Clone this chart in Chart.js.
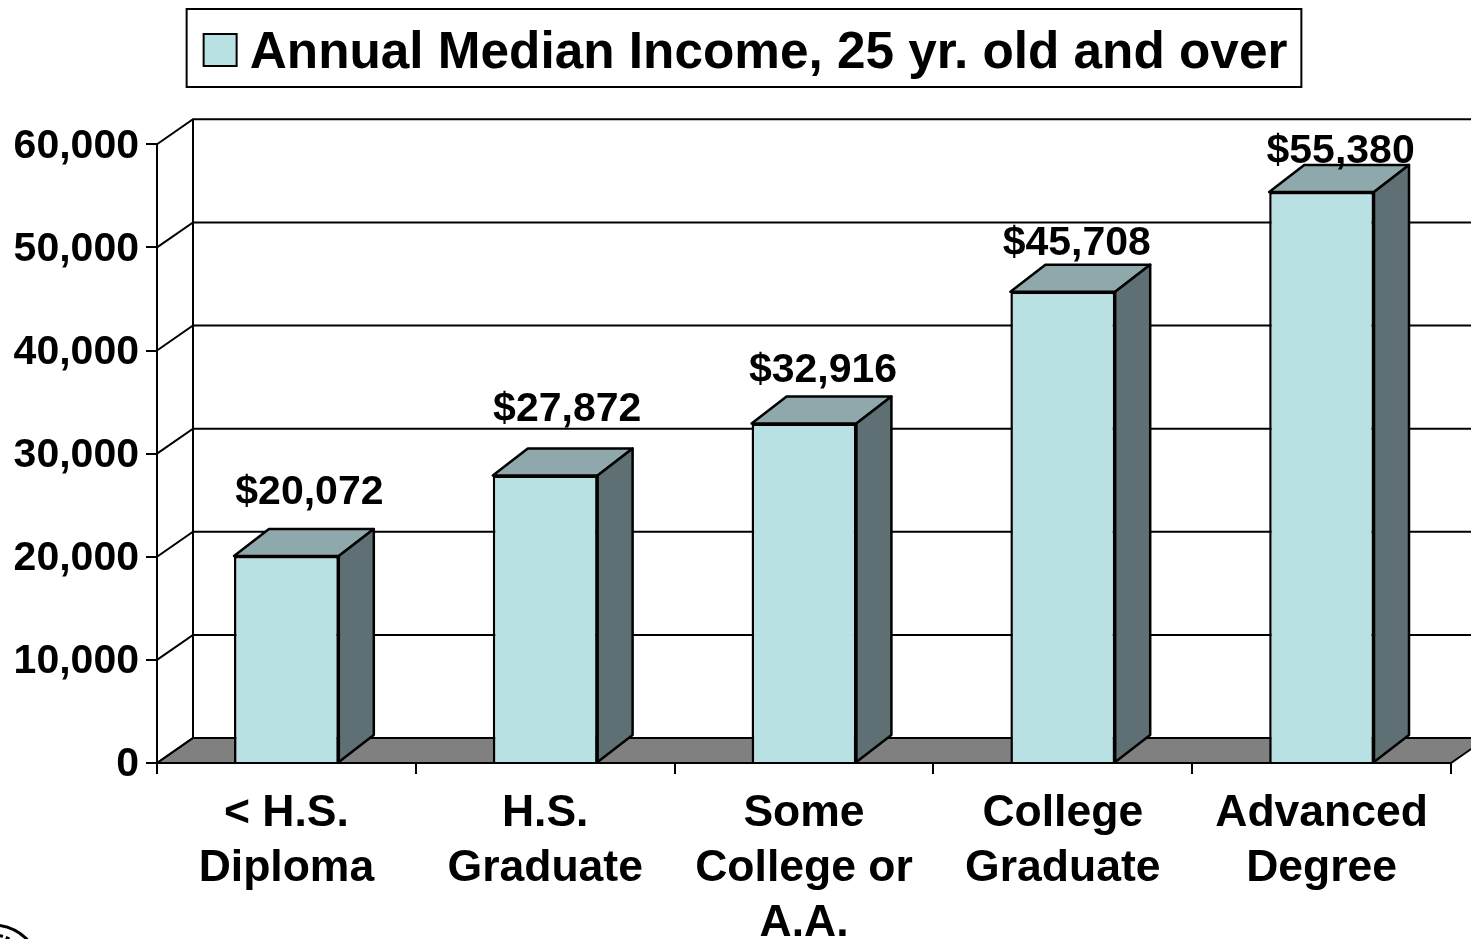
<!DOCTYPE html>
<html>
<head>
<meta charset="utf-8">
<title>Annual Median Income</title>
<script src="https://cdn.jsdelivr.net/npm/chart.js@4"></script>
<style>
    html, body { margin: 0; padding: 0; background: #fff; overflow: hidden; }
    #wrap { width: 1471px; height: 939px; }
</style>
</head>
<body>
<div id="wrap"><canvas id="incomeChart"></canvas></div>
<script>
const categories = [['< H.S.', 'Diploma'], ['H.S.', 'Graduate'], ['Some', 'College or', 'A.A.'], ['College', 'Graduate'], ['Advanced', 'Degree']];
const seriesName = 'Annual Median Income, 25 yr. old and over';
const medianIncome = [20072, 27872, 32916, 45708, 55380];
const incomeLabels = ['$20,072', '$27,872', '$32,916', '$45,708', '$55,380'];
const tickLabels = ['0', '10,000', '20,000', '30,000', '40,000', '50,000', '60,000'];

const FONT = '"Liberation Sans", Arial, sans-serif';
const FRONT = '#b9e0e3', TOP = '#8fa8ab', SIDE = '#5e7073', FLOOR = '#808080';

// depth of the fake 3D box
const wallDx = 36, wallDy = 25;
const barDx = 35, barDy = 27;
// hand placed value labels in the original, offset from the bar top centre
const labelNudge = [[23, -63], [22, -66], [19, -53], [14, -48], [19, -40]];

function poly(ctx, pts, fill) {
    ctx.beginPath();
    pts.forEach((p, i) => i ? ctx.lineTo(p[0], p[1]) : ctx.moveTo(p[0], p[1]));
    ctx.closePath();
    if (fill) { ctx.fillStyle = fill; ctx.fill(); }
    ctx.stroke();
}

const fake3d = {
    id: 'fake3d',
    // legend sits higher and a bit right of where the layout puts it
    afterLayout(chart) {
        const legend = chart.legend;
        legend.left += 19;
        legend.right += 19;
        legend.top -= 55;
        legend.bottom -= 55;
        legend.adjustHitBoxes();
    },
    // back wall, side wall and floor
    beforeDatasetsDraw(chart) {
        const { ctx, chartArea: a, scales: { y } } = chart;
        ctx.save();
        ctx.strokeStyle = '#000';
        ctx.lineWidth = 2;
        const base = y.getPixelForValue(0);
        poly(ctx, [[a.left, base], [a.left + wallDx, base - wallDy], [a.right + wallDx, base - wallDy], [a.right, base]], FLOOR);
        tickLabels.forEach((t, i) => {
            const py = y.getPixelForValue(i * 10000);
            ctx.beginPath();
            ctx.moveTo(a.left, py);
            ctx.lineTo(a.left + wallDx, py - wallDy);
            ctx.lineTo(a.right + wallDx, py - wallDy);
            ctx.stroke();
        });
        ctx.beginPath();
        ctx.moveTo(a.left + wallDx, y.getPixelForValue(60000) - wallDy);
        ctx.lineTo(a.left + wallDx, base - wallDy);
        ctx.stroke();
        ctx.restore();
    },
    // top and side of each bar, then the value labels
    afterDatasetsDraw(chart) {
        const { ctx } = chart;
        const bars = chart.getDatasetMeta(0).data;
        ctx.save();
        ctx.strokeStyle = '#000';
        ctx.lineWidth = 2.5;
        ctx.lineJoin = 'round';
        bars.forEach(b => {
            const l = b.x - b.width / 2, r = b.x + b.width / 2;
            poly(ctx, [[l, b.y], [l + barDx, b.y - barDy], [r + barDx, b.y - barDy], [r, b.y]], TOP);
            poly(ctx, [[r, b.y], [r + barDx, b.y - barDy], [r + barDx, b.base - barDy], [r, b.base]], SIDE);
        });
        ctx.fillStyle = '#000';
        ctx.font = 'bold 41px ' + FONT;
        ctx.textAlign = 'center';
        ctx.textBaseline = 'middle';
        bars.forEach((b, i) => {
            ctx.fillText(incomeLabels[i], b.x + labelNudge[i][0], b.y + labelNudge[i][1]);
        });
        ctx.restore();
    },
    // frame round the legend, its wider swatch, and the edge of the seal in the corner
    afterDraw(chart) {
        const { ctx, legend } = chart;
        const hit = legend.legendHitBoxes[0];
        ctx.save();
        ctx.strokeStyle = '#000';
        ctx.lineWidth = 2;
        ctx.strokeRect(hit.left - 15, 9, hit.width + 29, 78);
        ctx.fillStyle = FRONT;
        ctx.fillRect(hit.left + 2, 34, 33, 32);
        ctx.strokeRect(hit.left + 2, 34, 33, 32);
        ctx.lineWidth = 3;
        ctx.beginPath();
        ctx.arc(-8, 975, 50, -Math.PI / 2, -Math.PI / 4);
        ctx.stroke();
        ctx.setLineDash([4, 3]);
        ctx.beginPath();
        ctx.arc(-8, 975, 40, -Math.PI / 2, -Math.PI / 3);
        ctx.stroke();
        ctx.restore();
    }
};

document.addEventListener('DOMContentLoaded', function() {
    new Chart(document.getElementById('incomeChart').getContext('2d'), {
        type: 'bar',
        data: {
            labels: categories,
            datasets: [{
                label: seriesName,
                data: medianIncome,
                backgroundColor: FRONT,
                borderColor: '#000',
                borderWidth: 2.5,
                barPercentage: 0.405,
                categoryPercentage: 1
            }]
        },
        options: {
            responsive: true,
            maintainAspectRatio: false,
            animation: false,
            layout: {
                autoPadding: false,
                padding: { top: 73, left: 0, right: 20, bottom: 0 }
            },
            plugins: {
                tooltip: { enabled: false },
                legend: {
                    position: 'top',
                    onClick: null,
                    labels: {
                        boxWidth: 22.5,
                        boxHeight: 20,
                        padding: 10,
                        color: '#000',
                        font: { family: FONT, size: 51.3, weight: 'bold', lineHeight: 1 },
                        // the swatch is drawn by the plugin, the native box stays invisible
                        generateLabels: chart => Chart.defaults.plugins.legend.labels.generateLabels(chart).map(item => ({
                            ...item, fillStyle: 'rgba(0,0,0,0)', strokeStyle: 'rgba(0,0,0,0)', lineWidth: 0
                        }))
                    }
                }
            },
            scales: {
                x: {
                    afterFit: scale => { scale.height = 176; },
                    border: { color: '#000', width: 2 },
                    grid: { drawOnChartArea: false, color: '#000', lineWidth: 2, tickLength: 11 },
                    ticks: {
                        color: '#000',
                        autoSkip: false,
                        maxRotation: 0,
                        padding: 12,
                        font: { family: FONT, size: 44.5, weight: 'bold', lineHeight: 1.24 }
                    }
                },
                y: {
                    min: 0,
                    max: 60000,
                    afterFit: scale => { scale.width = 157; },
                    border: { color: '#000', width: 2 },
                    grid: { drawOnChartArea: false, color: '#000', lineWidth: 2, tickLength: 11 },
                    ticks: {
                        color: '#000',
                        stepSize: 10000,
                        padding: 7,
                        labelOffset: 2,
                        callback: (value, i) => tickLabels[i],
                        font: { family: FONT, size: 41, weight: 'bold' }
                    }
                }
            }
        },
        plugins: [fake3d]
    });
});
</script>
</body>
</html>
